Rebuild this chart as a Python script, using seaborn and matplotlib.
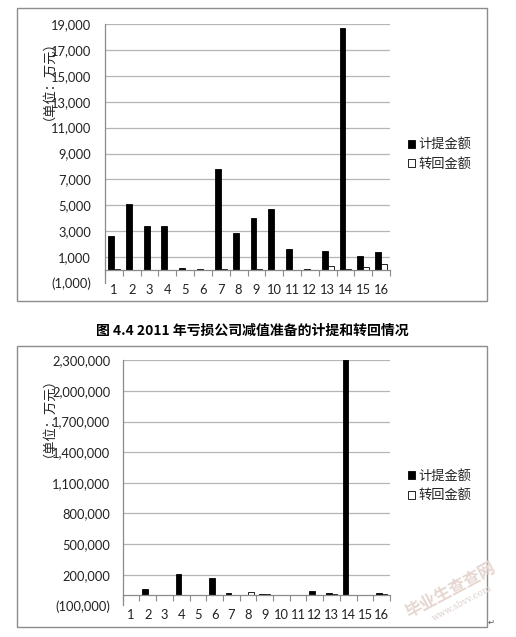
import matplotlib
matplotlib.use("Agg")
import matplotlib.pyplot as plt
import numpy as np
import pandas as pd
import seaborn as sns
from matplotlib.patches import Rectangle
from matplotlib.ticker import FixedLocator, FuncFormatter

# ---------------- data ----------------
categories = [str(i) for i in range(1, 17)]
series_names = ["计提金额", "转回金额"]

# Chart 1 (upper)
top_provision = [2600, 5100, 3420, 3370, 150, 60, 7780, 2830, 4040, 4690, 1600, 60, 1490, 18660, 1060, 1390]
top_reversal = [50, 0, 0, 0, 0, 30, 50, 0, 50, 0, 0, 0, 280, 80, 210, 440]
top_ticks = [-1000, 1000, 3000, 5000, 7000, 9000, 11000, 13000, 15000, 17000, 19000]

# Chart 2 (lower)
bot_provision = [4000, 60000, 3000, 207000, 2000, 171000, 24000, 3000, 9000, 4000, 5000, 37000, 18000, 2300000, 5000, 20000]
bot_reversal = [2000, 0, 2000, 0, 4000, 0, 5000, 28000, 8000, 2000, 4000, 5000, 6000, 4000, 4000, 6000]
bot_ticks = [-100000, 200000, 500000, 800000, 1100000, 1400000, 1700000, 2000000, 2300000]

caption = "图 4.4 2011 年亏损公司减值准备的计提和转回情况"
ylabel_text = "（单位：万元）"

# ---------------- style ----------------
sns.set_theme(style="white")
plt.rcParams["font.family"] = ["Lato", "Noto Sans CJK SC", "DejaVu Sans"]

W, H = 516, 637
fig = plt.figure(figsize=(W / 100, H / 100), dpi=100)
fig.patch.set_facecolor("white")


def fx(px):
    return px / W


def fy(py):
    return 1 - py / H


def acct(v, pos=None):
    if v < 0:
        return f"({abs(v):,.0f})"
    return f"{v:,.0f}"


def make_df(prov, rev):
    return pd.DataFrame({
        "cat": categories * 2,
        "series": [series_names[0]] * len(categories) + [series_names[1]] * len(categories),
        "value": list(prov) + list(rev),
    })


def draw_panel(rect, prov, rev, ticks, ypad, leg_y, ylab_y):
    ax = fig.add_axes(rect)
    df = make_df(prov, rev)
    sns.barplot(data=df, x="cat", y="value", hue="series", order=categories,
                hue_order=series_names, palette=["black", "white"],
                edgecolor="black", linewidth=0.6, width=0.66, dodge=True,
                errorbar=None, ax=ax, zorder=3)
    ax.set_xlim(-0.5, len(categories) - 0.5)
    ax.set_ylim(ticks[0], ticks[-1])
    ax.yaxis.set_major_locator(FixedLocator(ticks))
    ax.yaxis.set_major_formatter(FuncFormatter(acct))
    ax.set_xlabel("")
    ax.set_ylabel("")
    ax.set_facecolor("white")

    # spines
    for s in ["top", "right"]:
        ax.spines[s].set_visible(False)
    ax.spines["left"].set_color("#8a8a8a")
    ax.spines["left"].set_linewidth(0.9)
    ax.spines["bottom"].set_position(("data", 0))
    ax.spines["bottom"].set_color("#8a8a8a")
    ax.spines["bottom"].set_linewidth(0.9)
    ax.spines["bottom"].set_zorder(4)

    # gridlines (none at the lowest tick)
    ax.yaxis.grid(True, color="#b5b5b5", linewidth=0.9)
    ax.xaxis.grid(False)
    ax.set_axisbelow(True)
    mt = ax.yaxis.get_major_ticks()
    mt[0].gridline.set_visible(False)

    ax.tick_params(axis="y", length=0, pad=ypad, labelsize=9.3, labelcolor="#222222")
    ax.set_xticks(range(len(categories)))
    ax.set_xticklabels(categories)
    ax.tick_params(axis="x", which="major", length=0, pad=10, labelsize=9.3, labelcolor="#222222")
    ax.set_xticks(np.arange(-0.5, len(categories), 1.0), minor=True)
    ax.tick_params(axis="x", which="minor", length=4.5, width=0.8, color="#8a8a8a", direction="out")
    ax.tick_params(axis="x", which="minor", bottom=True)

    sns.move_legend(ax, "center left", bbox_to_anchor=(fx(408), leg_y),
                    bbox_transform=fig.transFigure, title=None, frameon=False,
                    fontsize=9.5, handlelength=0.55, handleheight=0.55,
                    handletextpad=0.25, labelspacing=0.5, borderpad=0, borderaxespad=0)
    for t in ax.get_legend().get_texts():
        t.set_color("#222222")

    fig.text(fx(42), ylab_y, ylabel_text, rotation=90, ha="center", va="center",
             fontsize=9.5, color="#222222", family=["Noto Sans CJK SC", "DejaVu Sans"])
    return ax


# frames
fig.patches.append(Rectangle((fx(17), fy(301)), fx(487) - fx(17), fy(8) - fy(301),
                             transform=fig.transFigure, fill=False, edgecolor="#8c8c8c", linewidth=1.0))
fig.patches.append(Rectangle((fx(17), fy(627)), fx(487) - fx(17), fy(346) - fy(627),
                             transform=fig.transFigure, fill=False, edgecolor="#8c8c8c", linewidth=1.0))

draw_panel([fx(105), fy(283), fx(390) - fx(105), fy(24) - fy(283)],
           top_provision, top_reversal, top_ticks, 10, fy(153.5), fy(73.5))
draw_panel([fx(122.7), fy(605.3), fx(390) - fx(122.7), fy(360.3) - fy(605.3)],
           bot_provision, bot_reversal, bot_ticks, 9, fy(485), fy(411))

fig.text(fx(252), fy(331), caption, ha="center", va="center", fontsize=10,
         fontweight="bold", color="black", family=["Noto Sans CJK SC", "DejaVu Sans"])

# watermark
fig.text(fx(450), fy(590), "毕业生查查网", rotation=28, ha="center", va="center",
         fontsize=12, color="#e6d6d0", fontweight="bold", family=["Noto Sans CJK SC", "DejaVu Sans"])
fig.text(fx(462), fy(603), "www.sbvv.com", rotation=28, ha="center", va="center",
         fontsize=6.5, color="#ddd0cb", family=["DejaVu Serif", "DejaVu Sans"])
fig.text(fx(491), fy(622), "↵", ha="center", va="center", fontsize=6, color="#555555",
         family=["DejaVu Sans"])

fig.savefig("out.png", dpi=100, facecolor="white")
